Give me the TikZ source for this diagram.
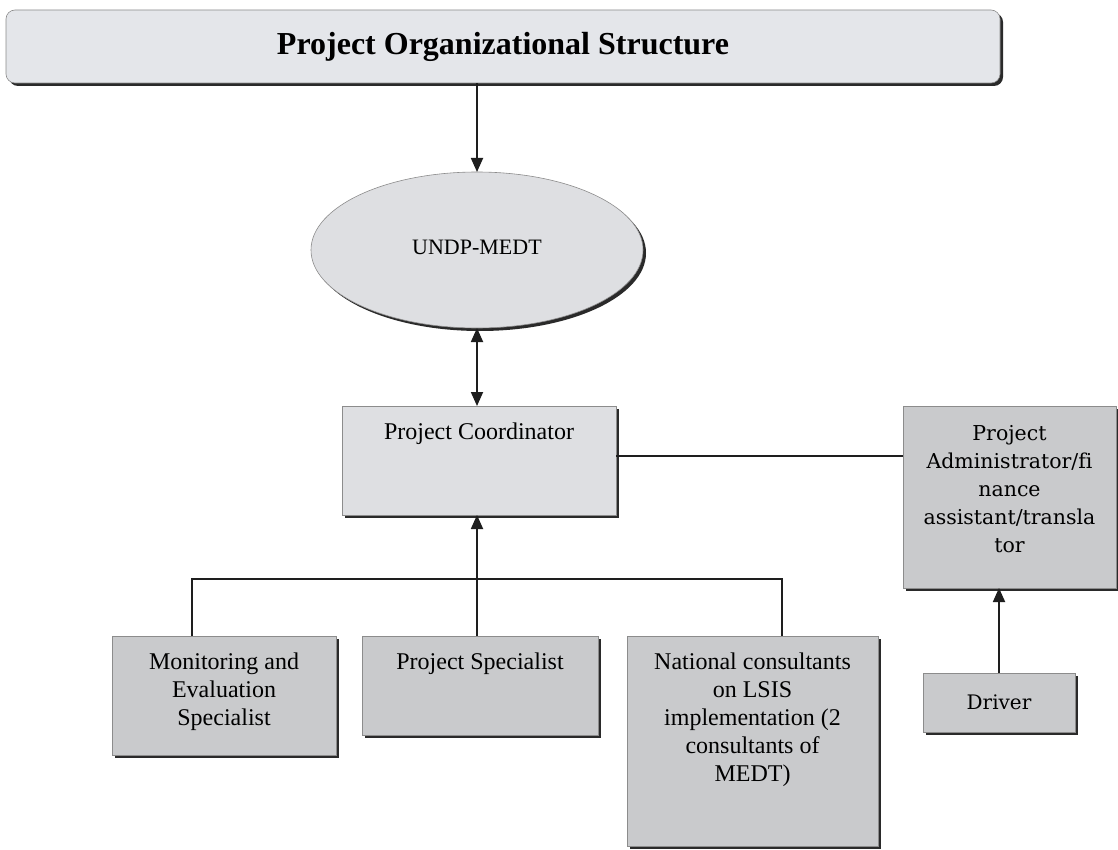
\documentclass[tikz,border=0pt]{standalone}
\usepackage{fontspec}
\setmainfont{Liberation Serif}
\newfontfamily\roleserif[Ligatures=NoCommon]{DejaVu Serif}
\usetikzlibrary{arrows.meta,shadows,shapes.geometric}

\definecolor{ink}{HTML}{1E1E1E}
\definecolor{edge}{HTML}{8C8C8C}
\definecolor{paleblue}{HTML}{E4E6EA}
\definecolor{palegrey}{HTML}{DEDFE2}
\definecolor{midgrey}{HTML}{C9CACC}
\definecolor{shade}{HTML}{2A2A2A}

\tikzset{
  shadowed/.style={drop shadow={shadow xshift=3pt,shadow yshift=-3pt,fill=shade,opacity=1}},
  unitbox/.style={draw=edge,line width=0.6pt,inner sep=0pt,outer sep=0pt,shadowed},
  lightbox/.style={unitbox,fill=palegrey},
  darkbox/.style={unitbox,fill=midgrey},
  roletext/.style={anchor=north,inner sep=0pt,align=center,font=\fontsize{24}{27.8}\selectfont},
  roletextdv/.style={anchor=north,inner sep=0pt,align=center,font=\roleserif\fontsize{20.5}{28}\selectfont},
  link/.style={draw=ink,line width=1.8pt},
  arr/.style={link,-{Triangle[width=12pt,length=14pt]}},
  darr/.style={link,{Triangle[width=12pt,length=14pt]}-{Triangle[width=12pt,length=14pt]}},
}

\begin{document}
\begin{tikzpicture}[x=1pt,y=-1pt]
  % page area
  \fill[white] (0,0) rectangle (1118,850);
  \useasboundingbox (0,0) rectangle (1118,850);

  % heading banner
  \node[unitbox,fill=paleblue,rounded corners=9pt,minimum width=994pt,minimum height=73pt,
        font=\fontsize{32}{36}\selectfont\bfseries] (title) at (503,46.5)
        {Project Organizational Structure};

  % oversight body
  \node[ellipse,unitbox,fill=palegrey,minimum width=332pt,minimum height=156pt] (ue) at (477,250) {};
  \node[font=\fontsize{22}{26}\selectfont,inner sep=0pt] (uet) at (477,247) {UNDP-MEDT};

  % coordinator
  \node[lightbox,minimum width=274pt,minimum height=109pt] (pc) at (479,460.5) {};
  \node[roletext] (pct) at ([yshift=-17pt]pc.north) {Project Coordinator};

  % administration branch
  \node[darkbox,minimum width=213pt,minimum height=182pt] (adm) at (1009.5,497) {};
  \node[roletextdv] (admt) at ([yshift=-19pt]adm.north)
        {Project\\Administrator/fi\\nance\\assistant/transla\\tor};
  \node[darkbox,minimum width=152pt,minimum height=59pt,
        font=\roleserif\fontsize{20}{24}\selectfont] (drv) at (999,702.5) {Driver};

  % specialists
  \node[darkbox,minimum width=224pt,minimum height=119pt] (me) at (224,695.5) {};
  \node[roletext] (met) at ([yshift=-17pt]me.north) {Monitoring and\\Evaluation\\Specialist};
  \node[darkbox,minimum width=236pt,minimum height=99pt] (ps) at (480,685.5) {};
  \node[roletext] (pst) at ([yshift=-17pt]ps.north) {Project Specialist};
  \node[darkbox,minimum width=251pt,minimum height=210pt] (nc) at (752.5,741) {};
  \node[roletext] (nct) at ([yshift=-17pt]nc.north)
        {National consultants\\on LSIS\\implementation (2\\consultants of\\MEDT)};

  % connectors
  \draw[arr] (ue.north |- title.south) -- (ue.north);
  \draw[darr] (ue.south) -- (ue.south |- pc.north);
  \draw[link] ([yshift=4.5pt]pc.east) -- ([yshift=4.5pt]pc.east -| adm.west);
  \draw[arr] (drv.north) -- (drv.north |- adm.south);

  \coordinate (busL) at (192,579);
  \coordinate (busR) at (782,579);
  \draw[link] (me.north -| busL) -- (busL) -- (busR) -- (nc.north -| busR);
  \draw[arr] (ps.north -| ue.south) -- (pc.south -| ue.south);
\end{tikzpicture}
\end{document}
